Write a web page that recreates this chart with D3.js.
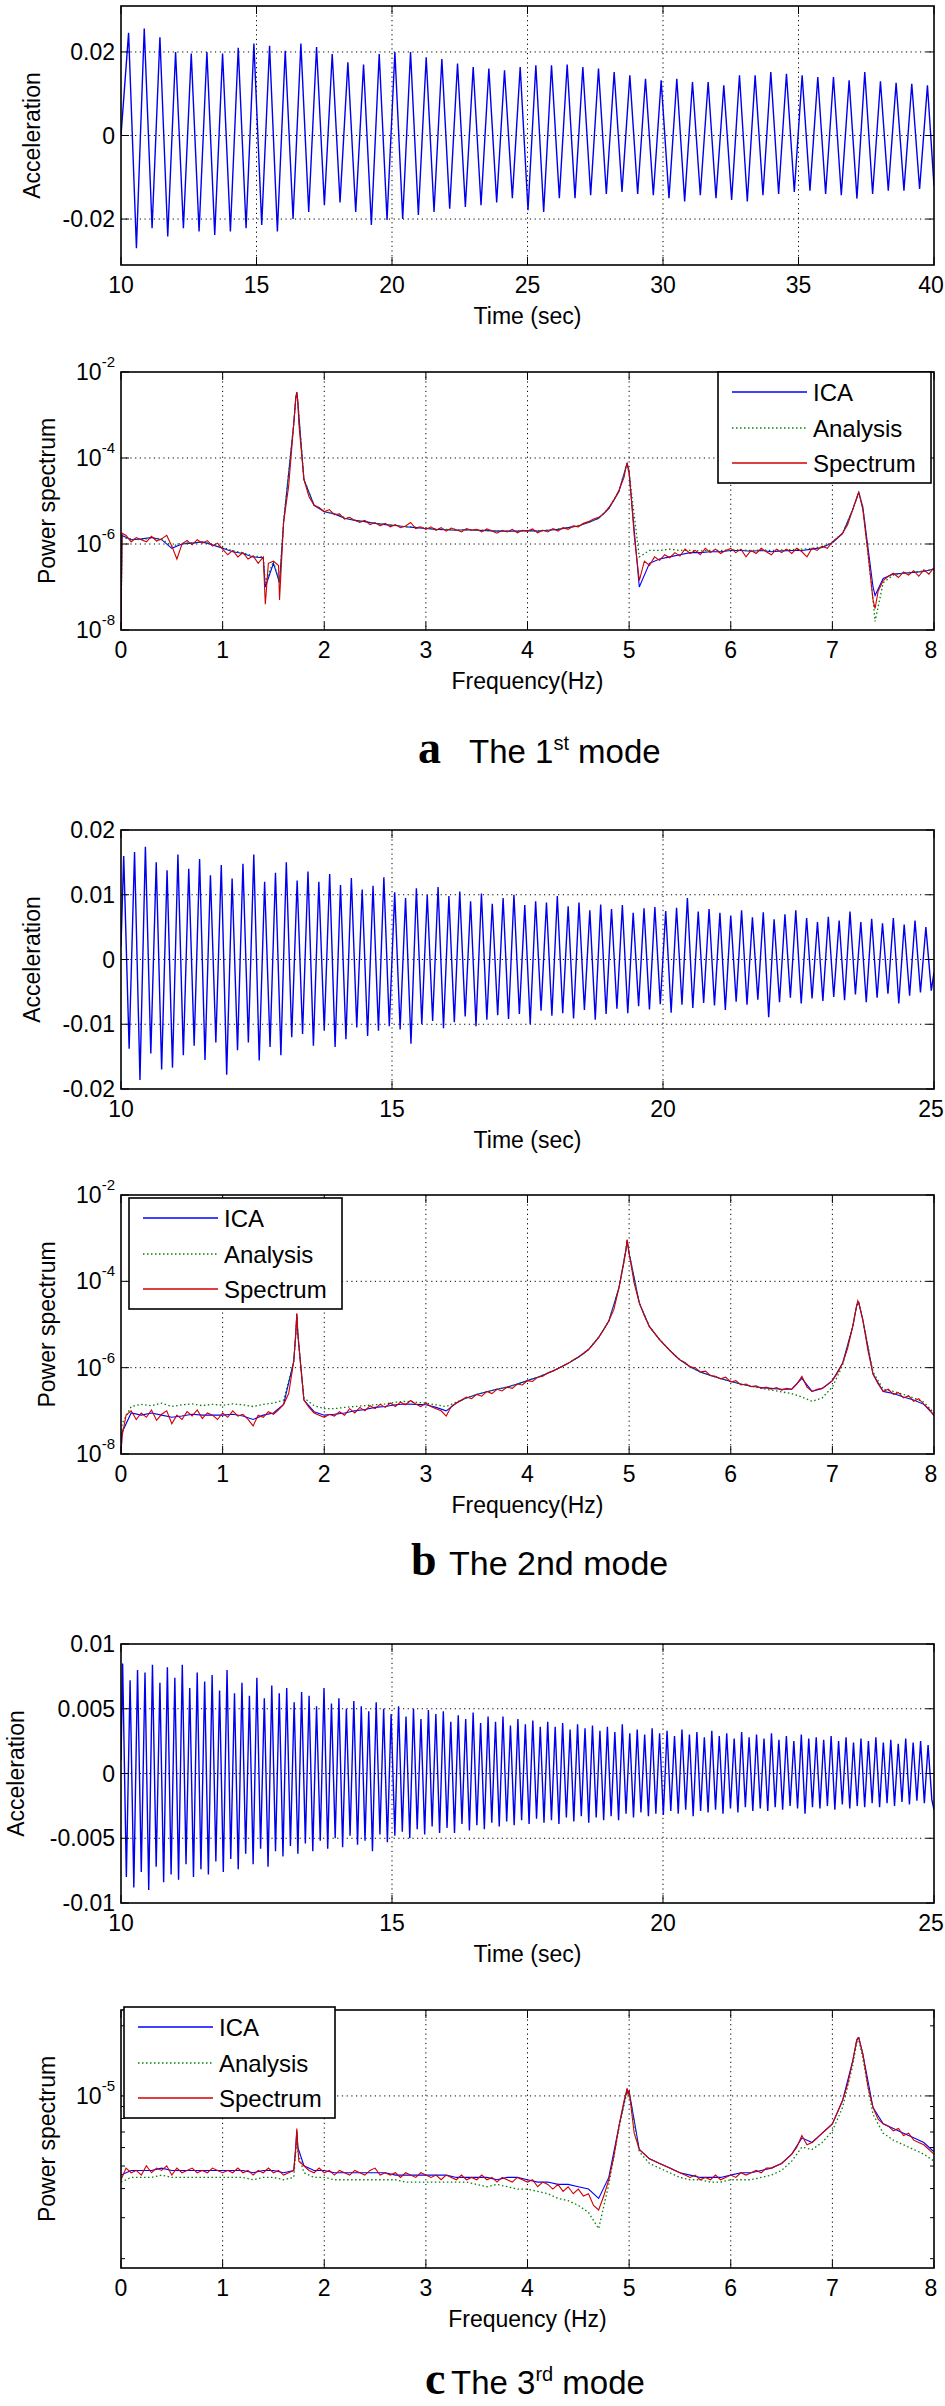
<!DOCTYPE html>
<html><head><meta charset="utf-8">
<script src="https://cdn.jsdelivr.net/npm/d3@7"></script>
<style>
body{margin:0;background:#fff}
svg{display:block}
text{fill:#000}
</style></head>
<body><svg id="chart" width="945" height="2406"></svg>
<script>
// ---------------- DATA ----------------
// Time series: successive peak / trough values
// panel a (units 1e-3), dominant mode ~1.73 Hz
const waveA_t0 = 10.28, waveA_period = 0.578, waveA_unit = 1e-3;
const waveA_start = 0, waveA_end = -12;
const waveA_peaks = [24.6,25.6,23.5,20,19.6,20,19.6,21,22,21.5,20.3,22,21.2,19.5,17.5,17,19.5,20,20,18.7,18.3,17.2,16.4,16,15.6,16.4,16.8,16.8,17,16.4,16,15.2,14.4,13.6,13.2,13.6,12.8,12.8,12,14.4,14.4,15.2,14.8,14.4,14,14,13.2,15.2,13,12.6,12.4,12];
const waveA_troughs = [-27,-22.2,-24.2,-22.2,-23,-23.8,-23,-22.2,-21.4,-23,-20,-18.3,-16.7,-16,-18.3,-21.4,-20.2,-20,-19,-18.3,-17.5,-17.1,-16.7,-16,-15,-17.9,-18.3,-15,-15,-14.3,-14,-13.5,-14,-14.3,-15,-15.8,-14.3,-15,-15.4,-15.8,-14.3,-14,-13.5,-13.2,-14,-14.3,-15.1,-14,-13.2,-13.2,-12.8];
// panel b (units 1e-3), ~5 Hz
const waveB_t0 = 10.05, waveB_period = 0.2, waveB_unit = 1e-3;
const waveB_start = 2, waveB_end = -2;
const waveB_peaks = [16,16.6,17.4,15,13.8, 16.2,14,15.5,13,14.6, 12.5,14.8,16.2,12,13.4, 15,12.2,13.6,12,13.2, 11.5,12.6,10.8,11.4,12.7, 10.4,9.5,11,10,11.2, 9.8,10.5,9,10.2,8.6, 9.5,10,8.4,9,8.8, 9.8,8.2,8.8,7.6,8.5, 7.8,8.4,7.2,7.9,8.1, 7.5,8,9.5,7.4,7.8, 7.2,6.8,7.6,6.5,7.3, 6.2,7,7.6,6.4,5.8, 6.6,6,7.4,5.8,6.3, 5.6,6.4,5.4,6,5];
const waveB_troughs = [-13.8,-18.6,-14.5,-17,-16.7, -14.8,-13.3,-15.5,-12.8,-17.8, -14,-12.8,-15.6,-13.5,-14.8, -12,-11.5,-13.3,-11,-13.5, -12.3,-10.5,-11.8,-11,-10.3, -10.8,-13,-10,-9.5,-10.6, -9.7,-8.8,-10.3,-9.3,-8.6, -9.2,-8.4,-10,-7.9,-8.7, -8.3,-9.1,-7.8,-9.3,-8.4, -7.6,-8.3,-7.2,-7.7,-6.9, -8.2,-7,-7.5,-6.7,-7.1, -7.8,-6.5,-7,-6.2,-8.9, -6.6,-5.9,-6.8,-6,-6.4, -5.8,-6.3,-5.4,-6.6,-5.9, -5.3,-6.8,-5.6,-5.1,-4.8];
// panel c (units 1e-4), ~7.25 Hz
const waveC_t0 = 10.03, waveC_period = 0.1376, waveC_unit = 1e-4;
const waveC_start = 10, waveC_end = -28;
const waveC_peaks = [85,72,80,78,84,70,82, 74,84,66,78,71,76,64, 80,62,70,60,74,58,68, 62,66,55,63,60,52,66, 54,58,50,56,52,48,55,50, 46,52,44,50,42,49,46, 48,40,45,42,47,39,44, 40,44,37,42,38,41,36, 40,36,39,34,38,35,37,33, 36,32,38,31,34,30,35, 31,33,29,34,30,32,28, 33,29,31,27,32,28,30, 27,31,26,29,25,30,27,28, 26,29,25,28,24,27,25, 28,24,26,23,27,24,25,22];
const waveC_troughs = [-80,-88,-76,-90,-72,-84,-78, -82,-70,-80,-74,-78,-68,-76, -66,-74,-62,-70,-58,-72,-60, -64,-56,-62,-54,-60,-52,-58, -50,-57,-48,-55,-52,-60,-47,-53, -48,-45,-50,-43,-47,-41,-46, -42,-46,-39,-44,-40,-43,-38, -41,-37,-40,-36,-39,-35,-38, -36,-39,-34,-37,-33,-38,-34,-36, -33,-36,-31,-34,-30,-33,-31, -32,-29,-31,-28,-33,-29,-30, -28,-31,-27,-30,-26,-29,-27, -29,-26,-28,-25,-27,-31,-26,-27, -25,-28,-24,-27,-25,-26,-23, -26,-23,-25,-22,-24,-21,-23,-20];

// Spectra: log10 of power spectrum. "Spectrum" sampled every 0.05 Hz, ICA / Analysis every 0.1 Hz,
// plus extra samples at the sharp peaks / dips.
const specStepFine = 0.05, specStepCoarse = 0.1;
const specA_spectrum = [-8.0,-5.8,-5.95,-5.85,-5.9,-5.95,-5.82,-5.93,-5.88,-5.8,
-6.05,-6.35,-6.0,-5.92,-6.02,-5.9,-5.98,-5.92,-6.05,-5.98,
-6.12,-6.25,-6.15,-6.3,-6.2,-6.35,-6.28,-6.45,-6.3,-6.45,
-6.4,-6.5,-5.5,-4.65,-3.2,-3.2,-4.5,-4.9,-5.1,-5.15,
-5.25,-5.2,-5.32,-5.3,-5.42,-5.38,-5.45,-5.5,-5.45,-5.55,
-5.5,-5.58,-5.52,-5.6,-5.55,-5.62,-5.58,-5.5,-5.64,-5.6,
-5.66,-5.6,-5.68,-5.62,-5.7,-5.63,-5.67,-5.72,-5.64,-5.68,
-5.66,-5.72,-5.65,-5.7,-5.75,-5.68,-5.72,-5.66,-5.74,-5.68,
-5.7,-5.65,-5.74,-5.68,-5.72,-5.64,-5.7,-5.62,-5.66,-5.58,
-5.6,-5.52,-5.48,-5.42,-5.38,-5.3,-5.15,-4.98,-4.75,-4.45,
-4.3,-5.8,-6.85,-6.4,-6.5,-6.3,-6.38,-6.25,-6.32,-6.2,
-6.28,-6.12,-6.22,-6.15,-6.25,-6.1,-6.2,-6.12,-6.22,-6.15,
-6.1,-6.2,-6.12,-6.3,-6.15,-6.22,-6.1,-6.18,-6.25,-6.12,
-6.2,-6.12,-6.22,-6.1,-6.18,-6.3,-6.1,-6.15,-6.05,-6.1,
-5.95,-5.85,-5.75,-5.55,-5.2,-4.85,-5.2,-6.2,-7.3,-7.1,
-6.85,-6.75,-6.68,-6.78,-6.65,-6.72,-6.62,-6.75,-6.6,-6.7,
-6.55];
const specA_ica = [-8,-5.9,-5.88,-5.85,-5.9,-6.1,-6.0,-5.98,-5.95,-6.02,
-6.1,-6.18,-6.22,-6.3,-6.32,-6.45,-5.5,-3.2,-4.5,-5.1,
-5.25,-5.3,-5.4,-5.45,-5.48,-5.52,-5.55,-5.57,-5.6,-5.62,
-5.64,-5.66,-5.67,-5.68,-5.67,-5.68,-5.69,-5.7,-5.7,-5.7,
-5.69,-5.7,-5.68,-5.66,-5.62,-5.58,-5.5,-5.4,-5.18,-4.78,
-4.35,-7.0,-6.45,-6.35,-6.3,-6.25,-6.2,-6.2,-6.18,-6.18,
-6.15,-6.15,-6.17,-6.15,-6.18,-6.16,-6.15,-6.15,-6.12,-6.08,
-5.97,-5.76,-5.2,-5.15,-7.0,-6.8,-6.7,-6.68,-6.66,-6.64,
-6.58];
const specA_analysis = [-8,-5.88,-5.9,-5.86,-5.88,-6.05,-5.98,-5.97,-5.96,-6.0,
-6.08,-6.16,-6.2,-6.28,-6.3,-6.4,-5.45,-3.2,-4.5,-5.1,
-5.24,-5.3,-5.38,-5.44,-5.48,-5.52,-5.54,-5.57,-5.6,-5.6,
-5.63,-5.65,-5.66,-5.67,-5.67,-5.68,-5.68,-5.69,-5.7,-5.7,
-5.69,-5.69,-5.68,-5.65,-5.62,-5.57,-5.5,-5.4,-5.17,-4.77,
-4.35,-6.3,-6.15,-6.15,-6.12,-6.15,-6.15,-6.16,-6.15,-6.15,
-6.14,-6.14,-6.15,-6.14,-6.15,-6.14,-6.13,-6.12,-6.1,-6.06,
-5.96,-5.75,-5.2,-5.15,-7.3,-6.9,-6.72,-6.68,-6.65,-6.63,
-6.58];
const specA_peakF = [0.01,1.42,1.56,1.72,1.73,1.74,4.97,4.98,4.99,7.26,7.42];
const specA_spectrumPk = [-5.75,-7.4,-7.3,-2.6,-2.47,-2.7,-4.2,-4.12,-4.2,-4.8,-7.5];
const specA_icaPk = [-5.8,-7.0,-6.9,-2.6,-2.47,-2.7,-4.2,-4.12,-4.25,-4.8,-7.2];
const specA_analysisPk = [-5.85,-6.9,-6.9,-2.6,-2.47,-2.7,-4.2,-4.12,-4.25,-4.8,-7.8];

const specB_spectrum = [-8.0,-7.1,-7.0,-7.2,-7.05,-7.15,-6.98,-7.22,-7.08,-7.0,
-7.3,-7.1,-7.2,-7.02,-7.12,-6.98,-7.18,-7.05,-7.1,-7.2,
-7.05,-7.15,-7.0,-7.12,-7.08,-7.2,-7.35,-7.1,-7.15,-7.02,
-7.08,-6.98,-6.85,-6.6,-5.85,-5.5,-6.75,-6.92,-7.05,-7.1,
-7.15,-7.08,-7.12,-7.02,-7.1,-6.95,-7.05,-6.92,-7.0,-6.88,
-6.95,-6.85,-6.92,-6.82,-6.9,-6.8,-6.86,-6.76,-6.84,-6.9,
-6.82,-6.9,-6.95,-7.0,-7.12,-6.9,-6.82,-6.75,-6.68,-6.72,
-6.62,-6.66,-6.55,-6.6,-6.5,-6.54,-6.45,-6.48,-6.38,-6.4,
-6.3,-6.32,-6.22,-6.2,-6.12,-6.08,-6.02,-5.96,-5.9,-5.82,
-5.75,-5.68,-5.58,-5.45,-5.3,-5.12,-4.92,-4.65,-4.15,-3.55,
-3.35,-4.05,-4.5,-4.8,-5.05,-5.2,-5.35,-5.48,-5.6,-5.72,
-5.82,-5.88,-5.98,-6.0,-6.1,-6.08,-6.18,-6.2,-6.26,-6.22,
-6.33,-6.3,-6.4,-6.38,-6.44,-6.42,-6.48,-6.45,-6.5,-6.46,
-6.52,-6.48,-6.5,-6.38,-6.2,-6.45,-6.55,-6.5,-6.48,-6.4,
-6.3,-6.12,-5.9,-5.55,-5.05,-4.45,-4.9,-5.6,-6.15,-6.38,
-6.55,-6.5,-6.62,-6.58,-6.7,-6.65,-6.78,-6.72,-6.85,-6.95,
-7.12];
const specB_ica = [-8,-7.05,-7.1,-7.05,-7.1,-7.15,-7.12,-7.08,-7.1,-7.1,
-7.1,-7.08,-7.12,-7.2,-7.1,-7.05,-6.85,-5.85,-6.75,-7.02,
-7.1,-7.08,-7.05,-7.0,-6.97,-6.92,-6.9,-6.86,-6.84,-6.85,
-6.86,-6.92,-7.0,-6.82,-6.7,-6.62,-6.56,-6.5,-6.45,-6.38,
-6.3,-6.22,-6.13,-6.02,-5.9,-5.76,-5.58,-5.3,-4.92,-4.15,
-3.35,-4.5,-5.05,-5.35,-5.6,-5.82,-5.98,-6.1,-6.18,-6.25,
-6.32,-6.38,-6.43,-6.46,-6.48,-6.5,-6.5,-6.25,-6.55,-6.48,
-6.3,-5.9,-5.05,-4.9,-6.15,-6.55,-6.6,-6.68,-6.75,-6.85,
-7.1];
const specB_analysis = [-8,-6.9,-6.85,-6.88,-6.82,-6.9,-6.86,-6.84,-6.88,-6.85,
-6.87,-6.84,-6.86,-6.9,-6.85,-6.82,-6.75,-5.85,-6.7,-6.88,
-6.95,-6.95,-6.92,-6.9,-6.88,-6.86,-6.84,-6.8,-6.78,-6.8,
-6.82,-6.86,-6.9,-6.8,-6.7,-6.62,-6.56,-6.5,-6.45,-6.38,
-6.3,-6.22,-6.13,-6.02,-5.9,-5.76,-5.58,-5.3,-4.92,-4.15,
-3.35,-4.5,-5.05,-5.35,-5.6,-5.82,-5.98,-6.1,-6.18,-6.25,
-6.32,-6.38,-6.43,-6.48,-6.52,-6.56,-6.6,-6.68,-6.78,-6.7,
-6.45,-5.95,-5.05,-4.9,-6.1,-6.5,-6.55,-6.62,-6.7,-6.8,
-7.05];
const specB_peakF = [0.01,1.72,1.73,1.74,4.97,4.98,4.99,7.24,7.26];
const specB_spectrumPk = [-7.6,-5.2,-4.74,-5.2,-3.25,-3.03,-3.2,-4.55,-4.5];
const specB_icaPk = [-7.5,-5.2,-4.76,-5.2,-3.25,-3.05,-3.2,-4.55,-4.5];
const specB_analysisPk = [-7.3,-5.25,-4.8,-5.25,-3.25,-3.05,-3.2,-4.55,-4.5];

const specC_spectrum = [-5.36,-5.31,-5.33,-5.32,-5.34,-5.3,-5.33,-5.31,-5.32,-5.3,
-5.34,-5.31,-5.33,-5.32,-5.31,-5.33,-5.32,-5.33,-5.31,-5.32,
-5.33,-5.32,-5.33,-5.31,-5.33,-5.32,-5.34,-5.32,-5.33,-5.31,
-5.33,-5.32,-5.34,-5.33,-5.32,-5.28,-5.3,-5.32,-5.33,-5.31,
-5.33,-5.32,-5.34,-5.32,-5.33,-5.34,-5.32,-5.33,-5.34,-5.32,
-5.31,-5.34,-5.33,-5.34,-5.33,-5.35,-5.33,-5.34,-5.35,-5.33,
-5.34,-5.35,-5.34,-5.36,-5.34,-5.35,-5.36,-5.34,-5.36,-5.35,
-5.36,-5.34,-5.36,-5.35,-5.37,-5.35,-5.36,-5.37,-5.35,-5.36,
-5.37,-5.36,-5.39,-5.37,-5.38,-5.4,-5.38,-5.41,-5.39,-5.42,
-5.4,-5.43,-5.42,-5.47,-5.49,-5.43,-5.36,-5.26,-5.13,-5.02,
-4.98,-5.16,-5.23,-5.25,-5.27,-5.28,-5.29,-5.3,-5.31,-5.32,
-5.33,-5.34,-5.35,-5.34,-5.36,-5.35,-5.36,-5.34,-5.36,-5.35,
-5.34,-5.35,-5.33,-5.34,-5.33,-5.32,-5.33,-5.31,-5.31,-5.3,
-5.29,-5.27,-5.25,-5.22,-5.17,-5.21,-5.2,-5.18,-5.16,-5.14,
-5.12,-5.07,-5.02,-4.95,-4.85,-4.75,-4.82,-4.96,-5.05,-5.1,
-5.12,-5.13,-5.15,-5.14,-5.17,-5.16,-5.19,-5.2,-5.21,-5.23,
-5.25];
const specC_ica = [-5.34,-5.32,-5.32,-5.32,-5.31,-5.32,-5.32,-5.32,-5.32,-5.32,
-5.32,-5.32,-5.32,-5.33,-5.32,-5.32,-5.33,-5.32,-5.3,-5.32,
-5.32,-5.33,-5.33,-5.33,-5.33,-5.33,-5.33,-5.34,-5.34,-5.34,
-5.34,-5.34,-5.34,-5.35,-5.35,-5.35,-5.35,-5.36,-5.35,-5.35,
-5.36,-5.37,-5.37,-5.38,-5.38,-5.39,-5.4,-5.44,-5.35,-5.13,
-4.98,-5.23,-5.27,-5.29,-5.31,-5.33,-5.34,-5.35,-5.35,-5.35,
-5.34,-5.33,-5.33,-5.32,-5.31,-5.29,-5.25,-5.18,-5.2,-5.16,
-5.12,-5.02,-4.85,-4.82,-5.05,-5.12,-5.14,-5.16,-5.18,-5.2,
-5.24];
const specC_analysis = [-5.37,-5.35,-5.35,-5.35,-5.34,-5.35,-5.35,-5.35,-5.35,-5.35,
-5.35,-5.35,-5.35,-5.36,-5.35,-5.35,-5.36,-5.35,-5.33,-5.35,
-5.35,-5.36,-5.36,-5.36,-5.36,-5.36,-5.36,-5.36,-5.37,-5.37,
-5.37,-5.37,-5.37,-5.37,-5.37,-5.38,-5.39,-5.38,-5.39,-5.4,
-5.4,-5.41,-5.42,-5.44,-5.45,-5.47,-5.5,-5.57,-5.38,-5.14,
-4.99,-5.24,-5.29,-5.31,-5.33,-5.35,-5.36,-5.36,-5.37,-5.37,
-5.36,-5.36,-5.36,-5.35,-5.34,-5.32,-5.28,-5.22,-5.23,-5.2,
-5.15,-5.05,-4.87,-4.84,-5.08,-5.16,-5.19,-5.21,-5.23,-5.25,
-5.28];
const specC_peakF = [1.72,1.73,1.74,4.97,4.98,4.99,7.24,7.26];
const specC_spectrumPk = [-5.22,-5.14,-5.22,-4.99,-4.967,-4.99,-4.76,-4.75];
const specC_icaPk = [-5.22,-5.15,-5.22,-4.99,-4.97,-4.99,-4.76,-4.75];
const specC_analysisPk = [-5.24,-5.17,-5.24,-5.0,-4.98,-5.0,-4.77,-4.76];

// axes / labels
const timeA_xTicks = [10,15,20,25,30,35,40];
const timeA_yTicks = [-0.02,0,0.02];
const timeBC_xTicks = [10,15,20,25];
const timeB_yTicks = [-0.02,-0.01,0,0.01,0.02];
const timeC_yTicks = [-0.01,-0.005,0,0.005,0.01];
const freqTicks = [0,1,2,3,4,5,6,7,8];
const specAB_yExps = [-8,-6,-4,-2];
const specC_yExps = [-5];
const specC_minor = [2e-6,3e-6,4e-6,5e-6,6e-6,7e-6,8e-6,9e-6,2e-5];
const legendNames = ["ICA","Analysis","Spectrum"];
const seriesColors = ["#0000ff","#008000","#d00000"];

// ---------------- DRAWING ----------------
const SANS = "'Liberation Sans',Arial,Helvetica,sans-serif";
const SERIF = "'Liberation Serif','Times New Roman',serif";
const svg = d3.select("#chart");
const XL = 121, XR = 934;
let clipId = 0;

function sans(sel, size) { return sel.style("font-family", SANS).style("font-size", size + "px"); }

function frame(top, bottom, xScale, yScale, xTicks, yTickVals) {
  const g = svg.append("g");
  xTicks.filter(t => t !== xScale.domain()[0] && t !== xScale.domain()[1]).forEach(t => {
    g.append("line").attr("x1", xScale(t)).attr("x2", xScale(t)).attr("y1", top).attr("y2", bottom)
      .attr("stroke", "#000").attr("stroke-width", 1).attr("stroke-dasharray", "1.2,3.5");
  });
  yTickVals.forEach(v => {
    const yy = yScale(v);
    if (Math.abs(yy - top) < 2 || Math.abs(yy - bottom) < 2) return;
    g.append("line").attr("x1", XL).attr("x2", XR).attr("y1", yy).attr("y2", yy)
      .attr("stroke", "#000").attr("stroke-width", 1).attr("stroke-dasharray", "1.2,3.5");
  });
}

function boxAndTicks(top, bottom, xScale, yScale, xTicks, yTickVals, minorVals) {
  const g = svg.append("g");
  const tl = 8;
  xTicks.forEach(t => {
    const x = xScale(t);
    g.append("line").attr("x1", x).attr("x2", x).attr("y1", bottom).attr("y2", bottom - tl).attr("stroke", "#000");
    g.append("line").attr("x1", x).attr("x2", x).attr("y1", top).attr("y2", top + tl).attr("stroke", "#000");
  });
  yTickVals.forEach(v => {
    const y = yScale(v);
    g.append("line").attr("x1", XL).attr("x2", XL + tl).attr("y1", y).attr("y2", y).attr("stroke", "#000");
    g.append("line").attr("x1", XR).attr("x2", XR - tl).attr("y1", y).attr("y2", y).attr("stroke", "#000");
  });
  (minorVals || []).forEach(v => {
    const y = yScale(v);
    g.append("line").attr("x1", XL).attr("x2", XL + 4).attr("y1", y).attr("y2", y).attr("stroke", "#000");
    g.append("line").attr("x1", XR).attr("x2", XR - 4).attr("y1", y).attr("y2", y).attr("stroke", "#000");
  });
  g.append("rect").attr("x", XL).attr("y", top).attr("width", XR - XL).attr("height", bottom - top)
    .attr("fill", "none").attr("stroke", "#000").attr("stroke-width", 1.6);
  xTicks.forEach(t => {
    const x = Math.min(xScale(t), 945 - 14);
    sans(g.append("text"), 23).attr("x", x).attr("y", bottom + 28).attr("text-anchor", "middle").text(t);
  });
}

function clip(top, bottom) {
  const id = "clip" + (clipId++);
  svg.append("clipPath").attr("id", id).append("rect")
    .attr("x", XL).attr("y", top).attr("width", XR - XL).attr("height", bottom - top);
  return "url(#" + id + ")";
}

function yLabel(txt, x, cy) {
  sans(svg.append("text"), 23).attr("transform", `translate(${x},${cy}) rotate(-90)`)
    .attr("text-anchor", "middle").attr("dominant-baseline", "central").text(txt);
}

function xLabel(txt, y) {
  sans(svg.append("text"), 23).attr("x", (XL + XR) / 2).attr("y", y).attr("text-anchor", "middle")
    .attr("dominant-baseline", "central").text(txt);
}

function timePanel(o) {
  const x = d3.scaleLinear().domain(o.xDom).range([XL, XR]);
  const y = d3.scaleLinear().domain(o.yDom).range([o.bottom, o.top]);
  frame(o.top, o.bottom, x, y, o.xTicks, o.yTicks);
  const pts = [[o.xDom[0], o.start * o.unit]];
  o.peaks.forEach((p, i) => {
    pts.push([o.t0 + i * o.period, p * o.unit]);
    if (i < o.troughs.length) pts.push([o.t0 + (i + 0.5) * o.period, o.troughs[i] * o.unit]);
  });
  pts.push([o.xDom[1], o.end * o.unit]);
  svg.append("path").datum(pts).attr("clip-path", clip(o.top, o.bottom))
    .attr("fill", "none").attr("stroke", "#0000ee").attr("stroke-width", 1.4)
    .attr("d", d3.line().x(d => x(d[0])).y(d => y(d[1])));
  boxAndTicks(o.top, o.bottom, x, y, o.xTicks, o.yTicks);
  o.yTicks.forEach(v => {
    sans(svg.append("text"), 23).attr("x", XL - 6).attr("y", y(v)).attr("text-anchor", "end")
      .attr("dominant-baseline", "central").text(String(v));
  });
  xLabel("Time (sec)", o.bottom + 51);
  yLabel("Acceleration", o.yLabelX, (o.top + o.bottom) / 2);
}

function merge(step, grid, pf, pv) {
  const pts = grid.map((v, i) => [i * step, v]);
  pf.forEach((f, i) => pts.push([f, pv[i]]));
  pts.sort((a, b) => a[0] - b[0]);
  return pts;
}

function specPanel(o) {
  const x = d3.scaleLinear().domain([0, 8]).range([XL, XR]);
  const y = d3.scaleLog().domain([Math.pow(10, o.yExp[0]), Math.pow(10, o.yExp[1])]).range([o.bottom, o.top]);
  const yTickVals = o.yExps.map(e => Math.pow(10, e));
  frame(o.top, o.bottom, x, y, freqTicks, yTickVals);
  const cp = clip(o.top, o.bottom);
  const series = [
    merge(specStepCoarse, o.ica, o.peakF, o.icaPk),
    merge(specStepCoarse, o.analysis, o.peakF, o.analysisPk),
    merge(specStepFine, o.spectrum, o.peakF, o.spectrumPk)
  ];
  const line = d3.line().x(d => x(d[0])).y(d => y(Math.pow(10, d[1])));
  series.forEach((s, i) => {
    svg.append("path").datum(s).attr("clip-path", cp).attr("fill", "none")
      .attr("stroke", seriesColors[i]).attr("stroke-width", i === 1 ? 1.3 : 1.1)
      .attr("stroke-dasharray", i === 1 ? "1.5,2.5" : null)
      .attr("d", line);
  });
  boxAndTicks(o.top, o.bottom, x, y, freqTicks, yTickVals, o.minor);
  o.yExps.forEach(e => {
    const t = sans(svg.append("text"), 23).attr("x", XL - 6).attr("y", y(Math.pow(10, e)) + 8)
      .attr("text-anchor", "end");
    t.append("tspan").text("10");
    t.append("tspan").style("font-size", "15px").attr("dy", -13).text(String(e));
  });
  xLabel(o.xLabel, o.bottom + 51);
  yLabel("Power spectrum", 47, (o.top + o.bottom) / 2);
  const L = o.legend;
  const lg = svg.append("g");
  lg.append("rect").attr("x", L.x).attr("y", L.y).attr("width", L.w).attr("height", L.h)
    .attr("fill", "#fff").attr("stroke", "#000").attr("stroke-width", 1.6);
  const rows = [20, 56, 91];
  legendNames.forEach((n, i) => {
    lg.append("line").attr("x1", L.x + 14).attr("x2", L.x + 89).attr("y1", L.y + rows[i]).attr("y2", L.y + rows[i])
      .attr("stroke", seriesColors[i]).attr("stroke-width", i === 1 ? 1.4 : 1.3)
      .attr("stroke-dasharray", i === 1 ? "1.5,2.5" : null);
    sans(lg.append("text"), 24).attr("x", L.x + 95).attr("y", L.y + rows[i]).attr("dominant-baseline", "central").text(n);
  });
}

function caption(letter, pre, sup, post, xLetter, xText, y, size) {
  svg.append("text").attr("x", xLetter).attr("y", y)
    .style("font-family", SERIF).style("font-weight", "bold").style("font-size", "46px").text(letter);
  const t = sans(svg.append("text"), size).attr("x", xText).attr("y", y);
  t.append("tspan").text(pre);
  if (sup) {
    t.append("tspan").style("font-size", Math.round(size * 0.6) + "px").attr("dy", -13).text(sup);
    t.append("tspan").attr("dy", 13).text(post);
  }
}

timePanel({top: 6, bottom: 265, xDom: [10, 40], yDom: [-0.031, 0.031], xTicks: timeA_xTicks, yTicks: timeA_yTicks,
  t0: waveA_t0, period: waveA_period, unit: waveA_unit, peaks: waveA_peaks, troughs: waveA_troughs,
  start: waveA_start, end: waveA_end, yLabelX: 32});
specPanel({top: 372, bottom: 630, yExp: [-8, -2], yExps: specAB_yExps, spectrum: specA_spectrum, ica: specA_ica,
  analysis: specA_analysis, peakF: specA_peakF, spectrumPk: specA_spectrumPk, icaPk: specA_icaPk,
  analysisPk: specA_analysisPk, legend: {x: 718, y: 372, w: 213, h: 111}, xLabel: "Frequency(Hz)"});
caption("a", "The 1", "st", " mode", 418, 469, 763, 33);

timePanel({top: 830, bottom: 1089, xDom: [10, 25], yDom: [-0.02, 0.02], xTicks: timeBC_xTicks, yTicks: timeB_yTicks,
  t0: waveB_t0, period: waveB_period, unit: waveB_unit, peaks: waveB_peaks, troughs: waveB_troughs,
  start: waveB_start, end: waveB_end, yLabelX: 32});
specPanel({top: 1195, bottom: 1454, yExp: [-8, -2], yExps: specAB_yExps, spectrum: specB_spectrum, ica: specB_ica,
  analysis: specB_analysis, peakF: specB_peakF, spectrumPk: specB_spectrumPk, icaPk: specB_icaPk,
  analysisPk: specB_analysisPk, legend: {x: 129, y: 1198, w: 213, h: 111}, xLabel: "Frequency(Hz)"});
caption("b", "The 2nd mode", null, "", 411, 449, 1575, 34);

timePanel({top: 1644, bottom: 1903, xDom: [10, 25], yDom: [-0.01, 0.01], xTicks: timeBC_xTicks, yTicks: timeC_yTicks,
  t0: waveC_t0, period: waveC_period, unit: waveC_unit, peaks: waveC_peaks, troughs: waveC_troughs,
  start: waveC_start, end: waveC_end, yLabelX: 16});
specPanel({top: 2010, bottom: 2268, yExp: [-5.739, -4.631], yExps: specC_yExps, minor: specC_minor,
  spectrum: specC_spectrum, ica: specC_ica, analysis: specC_analysis, peakF: specC_peakF,
  spectrumPk: specC_spectrumPk, icaPk: specC_icaPk, analysisPk: specC_analysisPk,
  legend: {x: 124, y: 2007, w: 211, h: 111}, xLabel: "Frequency (Hz)"});
caption("c", "The 3", "rd", " mode", 425, 451, 2394, 33);
</script></body></html>
